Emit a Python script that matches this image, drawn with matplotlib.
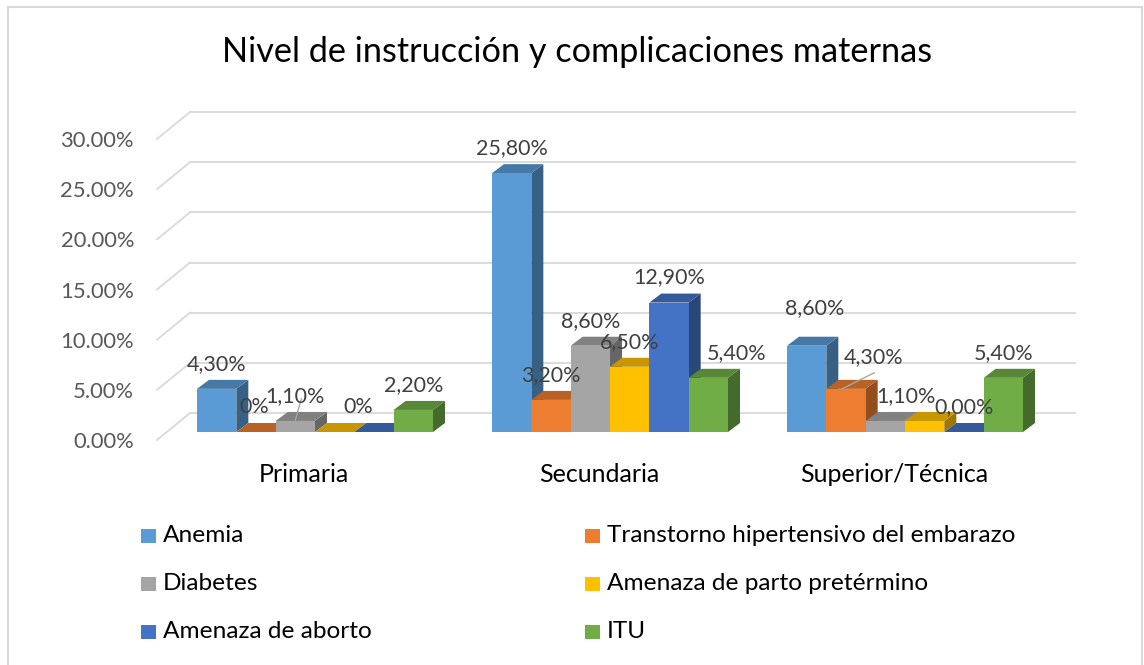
import numpy as np
import matplotlib.pyplot as plt
from matplotlib.patches import Polygon, Rectangle
from matplotlib.colors import to_rgb

plt.rcParams['font.family'] = ['Lato', 'DejaVu Sans']

# datos
categorias = ['Primaria', 'Secundaria', 'Superior/Técnica']
series = ['Anemia', 'Transtorno hipertensivo del embarazo', 'Diabetes',
          'Amenaza de parto pretérmino', 'Amenaza de aborto', 'ITU']
anemia = [4.3, 25.8, 8.6]
transtorno = [0.0, 3.2, 4.3]
diabetes = [1.1, 8.6, 1.1]
amenaza_parto = [0.0, 6.5, 1.1]
amenaza_aborto = [0.0, 12.9, 0.0]
itu = [2.2, 5.4, 5.4]
valores = [anemia, transtorno, diabetes, amenaza_parto, amenaza_aborto, itu]
etiquetas = [
    ['4,30%', '25,80%', '8,60%'],
    ['0%', '3,20%', '4,30%'],
    ['1,10%', '8,60%', '1,10%'],
    [None, '6,50%', None],
    ['0%', '12,90%', '0,00%'],
    ['2,20%', '5,40%', '5,40%'],
]
yticks = [0, 5, 10, 15, 20, 25, 30]
colores = ['#5B9BD5', '#ED7D31', '#A5A5A5', '#FFC000', '#4472C4', '#70AD47']

W, H = 1144, 665
fig = plt.figure(figsize=(W / 100, H / 100), dpi=100)

# marco del grafico
fig.patches.append(Rectangle((8 / W, -0.01), 1134 / W, (665 - 7) / H + 0.01,
                             transform=fig.transFigure, fill=False,
                             edgecolor='#d9d9d9', lw=1.5))

# plano frontal de las barras: x -0.5..2.5 -> px 167.5..1052.5, y 0..30 -> px 432..131
ax = fig.add_axes([167.5 / W, (H - 432) / H, 885 / W, 301 / H])
ax.set_xlim(-0.5, 2.5)
ax.set_ylim(0, 30)
ax.axis('off')

kx = 3 / 885      # unidades por px
ky = 30 / 301

# pared del fondo y pared lateral
for t in yticks:
    ax.plot([-0.5 + 22.5 * kx, -0.5 + 907.5 * kx], [t + 19 * ky] * 2,
            color='#d9d9d9', lw=1.3, clip_on=False, zorder=1)
    ax.plot([-0.5 - 10.5 * kx, -0.5 + 22.5 * kx], [t - 8 * ky, t + 19 * ky],
            color='#d9d9d9', lw=1.3, clip_on=False, zorder=1)
    ax.text(-0.5 - 33.5 * kx, t - 10 * ky, '%.2f%%' % t, ha='right', va='center',
            fontsize=15.8, color='#595959')


def sombra(c, f):
    r, g, b = to_rgb(c)
    return (r * f, g * f, b * f)


bw = 0.8 / 6
dx = 12 * kx
dy = 9 * ky
# ajustes manuales de etiquetas (px)
ajustes = {(0, 2): (8, 13), (1, 0): (-2, 0), (4, 0): (-16, 0), (5, 1): (28, 0),
           (1, 2): (28, 7), (2, 2): (21, 0)}
z = 2
for g in range(len(categorias)):
    for s in range(len(series)):
        v = valores[s][g]
        x0 = g - 0.4 + s * bw
        c = colores[s]
        side = Polygon([(x0 + bw, 0), (x0 + bw + dx, dy), (x0 + bw + dx, v + dy), (x0 + bw, v)],
                       closed=True, facecolor=sombra(c, 0.62), edgecolor='none', zorder=z)
        top = Polygon([(x0, v), (x0 + bw, v), (x0 + bw + dx, v + dy), (x0 + dx, v + dy)],
                      closed=True, facecolor=sombra(c, 0.78), edgecolor='none', zorder=z)
        ax.add_patch(side)
        ax.add_patch(top)
        ax.bar(x0, v, width=bw, align='edge', color=c, zorder=z, clip_on=False)
        z += 1
        lab = etiquetas[s][g]
        if lab:
            ox, oy = ajustes.get((s, g), (0, 0))
            ax.text(x0 + bw / 2 + ox * kx, v + (25 + oy) * ky, lab, ha='center', va='center',
                    fontsize=15.5, color='#404040', zorder=50)

# lineas guia
ax.plot([0 - 0.4 + 2.5 * bw + 6 * kx, 0 - 0.4 + 2.5 * bw], [1.1 + 22 * ky, 1.1 + 1 * ky],
        color='#a6a6a6', lw=1, zorder=49)
ax.plot([2 - 0.4 + 1.5 * bw + 28 * kx, 2 - 0.4 + 1.5 * bw - 4 * kx], [4.3 + 16 * ky, 4.3],
        color='#a6a6a6', lw=1, zorder=49)

for g, cat in enumerate(categorias):
    ax.text(g - 11 * kx, -43 * ky, cat, ha='center', va='center', fontsize=18, color='#000000')

fig.text(577 / W, 1 - 52 / H, 'Nivel de instrucción y complicaciones maternas',
         ha='center', va='center', fontsize=24.7, color='#000000')

# leyenda
for i, (nombre, c) in enumerate(zip(series, colores)):
    fila, col = i // 2, i % 2
    xm = (141 if col == 0 else 585)
    ym = 536 + fila * 48
    fig.patches.append(Rectangle((xm / W, 1 - (ym + 7) / H), 15 / W, 14 / H,
                                 transform=fig.transFigure, facecolor=c, edgecolor='none'))
    fig.text((xm + 22) / W, 1 - ym / H, nombre, ha='left', va='center', fontsize=17.6,
             color='#000000')

fig.savefig('out.png', dpi=100)
